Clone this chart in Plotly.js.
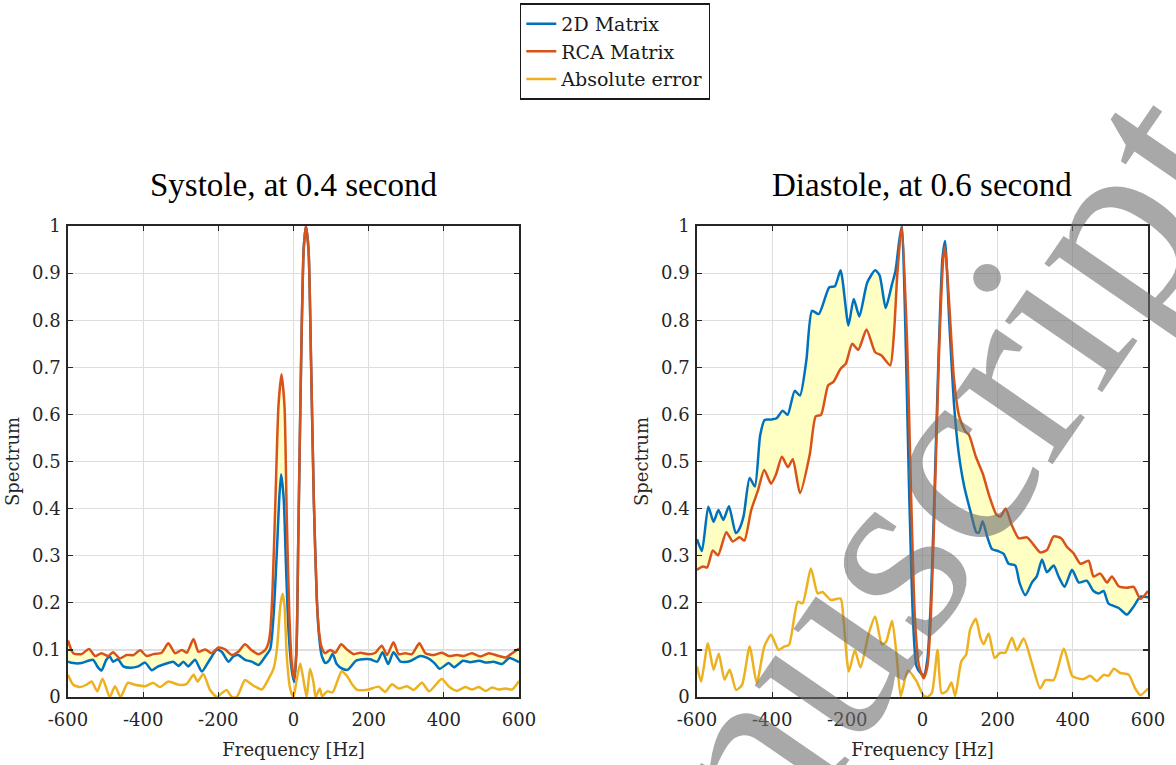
<!DOCTYPE html>
<html>
<head>
<meta charset="utf-8">
<script src="https://cdn.plot.ly/plotly-3.0.1.min.js"></script>
<style>html,body{margin:0;padding:0;background:#fff;}#chart{width:1176px;height:765px;}</style>
</head>
<body>
<div id="chart"></div>
<script>
// ---------- Systole, at 0.4 second ----------
const sysBlueF = [-600,-586,-564,-546,-533,-522,-511,-498,-489,-480,-467,-453,-435,-413,-395,-377,-360,-342,-320,-306,-293,-280,-262,-244,-226,-204,-191,-173,-160,-147,-129,-111,-93,-75,-62,-53,-44,-38,-33,-26,-20,-13,-4,2,8,13,20,27,33,40,47,54,62,68,75,85,95,104,115,130,145,166,185,204,223,237,252,266,285,309,337,356,375,389,413,427,451,470,494,513,532,555,574,600];
const sysBlueV = [0.075,0.072,0.072,0.077,0.079,0.065,0.056,0.079,0.086,0.075,0.080,0.065,0.062,0.065,0.073,0.057,0.065,0.070,0.075,0.066,0.075,0.065,0.079,0.054,0.075,0.100,0.096,0.075,0.086,0.089,0.079,0.075,0.068,0.086,0.102,0.173,0.314,0.420,0.473,0.420,0.279,0.138,0.053,0.032,0.102,0.350,0.700,0.950,1.000,0.950,0.700,0.420,0.210,0.130,0.088,0.072,0.078,0.092,0.070,0.060,0.058,0.077,0.080,0.080,0.075,0.095,0.070,0.095,0.075,0.076,0.087,0.083,0.072,0.060,0.072,0.063,0.077,0.074,0.077,0.073,0.075,0.070,0.083,0.074];

const sysRcaF = [-600,-586,-564,-544,-528,-511,-493,-480,-462,-444,-426,-408,-391,-373,-351,-333,-315,-297,-284,-266,-253,-235,-218,-200,-182,-164,-147,-129,-111,-93,-75,-67,-62,-56,-48,-40,-32,-24,-18,-11,-4,2,8,13,20,27,33,40,47,54,62,68,75,84,98,111,127,142,160,178,200,218,235,249,266,280,297,315,335,351,373,395,413,435,453,475,497,520,542,564,582,600];
const sysRcaV = [0.120,0.093,0.091,0.102,0.087,0.093,0.087,0.095,0.082,0.089,0.089,0.099,0.087,0.091,0.094,0.114,0.093,0.100,0.094,0.123,0.096,0.101,0.093,0.105,0.101,0.089,0.096,0.112,0.099,0.091,0.100,0.114,0.138,0.222,0.420,0.618,0.685,0.618,0.385,0.173,0.067,0.039,0.102,0.350,0.702,0.950,1.000,0.950,0.702,0.420,0.208,0.138,0.105,0.093,0.100,0.094,0.112,0.101,0.091,0.094,0.091,0.094,0.109,0.089,0.116,0.091,0.093,0.091,0.114,0.093,0.089,0.094,0.087,0.089,0.087,0.093,0.086,0.093,0.088,0.084,0.093,0.103];

const sysErrF = [-600,-586,-568,-551,-537,-522,-508,-489,-475,-460,-441,-422,-395,-373,-355,-333,-306,-284,-266,-255,-240,-222,-204,-191,-178,-164,-151,-129,-115,-102,-84,-66,-53,-44,-35,-29,-24,-18,-9,0,9,18,26,35,44,53,59,70,76,90,104,128,142,155,170,200,226,244,262,280,302,320,342,361,394,415,435,457,475,493,511,528,546,564,582,600];
const sysErrV = [0.047,0.026,0.021,0.026,0.033,0.012,0.039,0.000,0.023,0.000,0.030,0.026,0.023,0.030,0.021,0.033,0.026,0.028,0.047,0.033,0.049,0.015,0.000,0.008,0.015,0.000,0.000,0.036,0.029,0.022,0.016,0.039,0.060,0.102,0.194,0.219,0.194,0.088,0.018,0.000,0.039,0.071,0.039,0.000,0.060,0.032,0.000,0.018,0.002,0.012,0.010,0.054,0.045,0.028,0.015,0.016,0.022,0.011,0.027,0.018,0.023,0.015,0.030,0.012,0.038,0.021,0.013,0.021,0.016,0.021,0.013,0.020,0.016,0.018,0.016,0.034];

// ---------- Diastole, at 0.6 second ----------
const diaBlueF = [-600,-587,-570,-556,-543,-530,-515,-497,-488,-476,-460,-446,-432,-420,-402,-388,-372,-359,-340,-326,-309,-294,-276,-248,-233,-218,-197,-183,-168,-147,-126,-114,-98,-81,-72,-62,-55,-44,-36,-25,-16,-4,4,13,22,31,43,53,60,71,84,96,111,129,143,150,160,172,185,201,216,229,247,258,274,291,304,318,331,349,362,378,398,416,437,455,469,482,495,522,544,560,580,600];
const diaBlueV = [0.335,0.310,0.404,0.372,0.397,0.376,0.405,0.348,0.356,0.384,0.465,0.447,0.555,0.588,0.589,0.592,0.608,0.599,0.650,0.640,0.715,0.820,0.813,0.870,0.872,0.906,0.789,0.845,0.808,0.880,0.906,0.895,0.826,0.877,0.904,0.968,1.000,0.730,0.450,0.160,0.065,0.050,0.047,0.080,0.200,0.410,0.730,0.930,0.968,0.800,0.620,0.520,0.447,0.390,0.350,0.349,0.373,0.341,0.314,0.310,0.304,0.283,0.279,0.243,0.216,0.243,0.256,0.292,0.265,0.279,0.256,0.234,0.270,0.243,0.247,0.225,0.220,0.225,0.198,0.189,0.175,0.190,0.213,0.212];

const diaRcaF = [-600,-584,-573,-558,-544,-522,-505,-487,-474,-456,-438,-421,-403,-390,-374,-358,-345,-326,-300,-284,-270,-251,-237,-218,-204,-187,-171,-149,-126,-109,-86,-76,-67,-55,-40,-31,-20,-9,3,13,22,31,44,55,60,71,84,98,114,124,142,160,178,196,207,221,238,256,278,291,313,331,349,369,384,402,420,442,455,473,491,504,522,544,562,580,600];
const diaRcaV = [0.270,0.277,0.275,0.311,0.301,0.350,0.330,0.339,0.332,0.396,0.438,0.482,0.453,0.472,0.510,0.488,0.505,0.433,0.515,0.596,0.599,0.662,0.669,0.697,0.708,0.750,0.737,0.780,0.732,0.725,0.704,0.771,0.898,1.000,0.730,0.447,0.164,0.065,0.040,0.065,0.164,0.376,0.730,0.928,0.956,0.836,0.673,0.595,0.564,0.556,0.510,0.475,0.426,0.388,0.383,0.400,0.364,0.337,0.339,0.328,0.307,0.312,0.341,0.337,0.319,0.305,0.283,0.289,0.256,0.262,0.243,0.256,0.235,0.232,0.234,0.208,0.225];

const diaErrF = [-600,-589,-571,-556,-542,-527,-513,-496,-480,-460,-441,-421,-403,-383,-368,-355,-332,-319,-297,-279,-266,-244,-218,-210,-196,-180,-165,-143,-126,-108,-97,-81,-68,-58,-39,-17,2,13,25,40,51,65,77,87,103,116,127,142,154,163,176,192,207,220,238,251,269,291,313,327,349,376,398,411,429,446,464,482,495,509,526,549,566,580,600];
const diaErrV = [0.065,0.033,0.114,0.058,0.092,0.037,0.058,0.015,0.026,0.107,0.030,0.107,0.132,0.100,0.107,0.111,0.202,0.199,0.273,0.220,0.223,0.206,0.209,0.162,0.054,0.099,0.063,0.135,0.171,0.112,0.117,0.162,0.081,0.002,0.056,0.035,0.004,0.000,0.009,0.100,0.008,0.013,0.031,0.002,0.075,0.090,0.144,0.166,0.126,0.112,0.135,0.083,0.094,0.094,0.126,0.099,0.124,0.072,0.018,0.036,0.036,0.103,0.045,0.040,0.038,0.045,0.034,0.047,0.045,0.060,0.051,0.047,0.018,0.004,0.018];

const seriesNames = ['2D Matrix', 'RCA Matrix', 'Absolute error'];
const seriesColors = ['#0072BD', '#D95319', '#EDB120'];
const panelTitles = ['Systole, at 0.4 second', 'Diastole, at 0.6 second'];
const watermarkText = 'Accepted Manuscript';
const xTickVals = [-600,-400,-200,0,200,400,600];
const xTickText = ['-600','-400','-200','0','200','400','600'];
const yTickVals = [0,0.1,0.2,0.3,0.4,0.5,0.6,0.7,0.8,0.9,1];
const yTickText = ['0','0.1','0.2','0.3','0.4','0.5','0.6','0.7','0.8','0.9','1'];

const panels = [
  {xa:'x', ya:'y', blue:[sysBlueF,sysBlueV], rca:[sysRcaF,sysRcaV], err:[sysErrF,sysErrV], legend:true},
  {xa:'x2', ya:'y2', blue:[diaBlueF,diaBlueV], rca:[diaRcaF,diaRcaV], err:[diaErrF,diaErrV], legend:false}
];

const SM = 0.6;
const traces = [];
panels.forEach(p => {
  traces.push({x:p.rca[0], y:p.rca[1], xaxis:p.xa, yaxis:p.ya, mode:'lines', line:{width:0, shape:'spline', smoothing:SM}, showlegend:false, hoverinfo:'skip'});
  traces.push({x:p.blue[0], y:p.blue[1], xaxis:p.xa, yaxis:p.ya, mode:'lines', line:{width:0, shape:'spline', smoothing:SM}, fill:'tonexty', fillcolor:'rgba(255,255,196,1)', showlegend:false, hoverinfo:'skip'});
  const sets = [p.blue, p.rca, p.err];
  sets.forEach((s, i) => {
    traces.push({x:s[0], y:s[1], xaxis:p.xa, yaxis:p.ya, mode:'lines', name:seriesNames[i],
      legendgroup:'g'+i, showlegend:p.legend,
      line:{color:seriesColors[i], width:2.5, shape:'spline', smoothing:SM}});
  });
});

const tickFont = {family:'DejaVu Serif', size:18, color:'#262626'};
function xAxis(domain, anchor){
  return {domain:domain, anchor:anchor, range:[-600,600], tickmode:'array', tickvals:xTickVals, ticktext:xTickText,
    ticks:'inside', ticklen:5, tickwidth:1.2, tickcolor:'#262626', showline:true, linecolor:'#262626', linewidth:1.8, mirror:'ticks',
    showgrid:true, gridcolor:'#dedede', gridwidth:1.2, zeroline:false, tickfont:tickFont, ticklabelstandoff:6,
    title:{text:'Frequency [Hz]', font:{family:'DejaVu Serif', size:18, color:'#262626'}, standoff:14}};
}
function yAxis(anchor){
  return {domain:[0,1], anchor:anchor, range:[0,1], tickmode:'array', tickvals:yTickVals, ticktext:yTickText,
    ticks:'inside', ticklen:5, tickwidth:1.2, tickcolor:'#262626', showline:true, linecolor:'#262626', linewidth:1.8, mirror:'ticks',
    showgrid:true, gridcolor:'#dedede', gridwidth:1.2, zeroline:false, tickfont:tickFont, ticklabelstandoff:2,
    title:{text:'Spectrum', font:{family:'DejaVu Serif', size:18, color:'#262626'}, standoff:8}};
}

const d1 = [0, 451/1080];
const d2 = [629/1080, 1];
const layout = {
  width:1176, height:765,
  margin:{l:68, r:28, t:226, b:68, autoexpand:false},
  paper_bgcolor:'#ffffff', plot_bgcolor:'#ffffff',
  showlegend:true,
  legend:{xref:'container', yref:'container', x:615/1176, xanchor:'center', y:1 - 3/765, yanchor:'top', bgcolor:'#ffffff', bordercolor:'#1a1a1a', borderwidth:1.8,
    font:{family:'DejaVu Serif', size:19, color:'#1a1a1a'}, tracegroupgap:0, itemwidth:30},
  xaxis: xAxis(d1, 'y'),
  yaxis: yAxis('x'),
  xaxis2: xAxis(d2, 'y2'),
  yaxis2: yAxis('x2'),
  annotations:[
    {text:panelTitles[0], xref:'paper', yref:'paper', x:(d1[0]+d1[1])/2, y:1.086, xanchor:'center', yanchor:'middle', showarrow:false,
      font:{family:'Liberation Serif', size:33, color:'#000000'}},
    {text:panelTitles[1], xref:'paper', yref:'paper', x:(d2[0]+d2[1])/2, y:1.086, xanchor:'center', yanchor:'middle', showarrow:false,
      font:{family:'Liberation Serif', size:33, color:'#000000'}},
    {text:watermarkText, xref:'paper', yref:'paper', x:0.443, y:-0.738, xanchor:'center', yanchor:'middle', showarrow:false,
      textangle:-55.5, font:{family:'Liberation Serif', size:262, color:'rgba(110,110,110,0.6)'}}
  ]
};

Plotly.newPlot('chart', traces, layout, {displayModeBar:false, staticPlot:true});
</script>
</body>
</html>
